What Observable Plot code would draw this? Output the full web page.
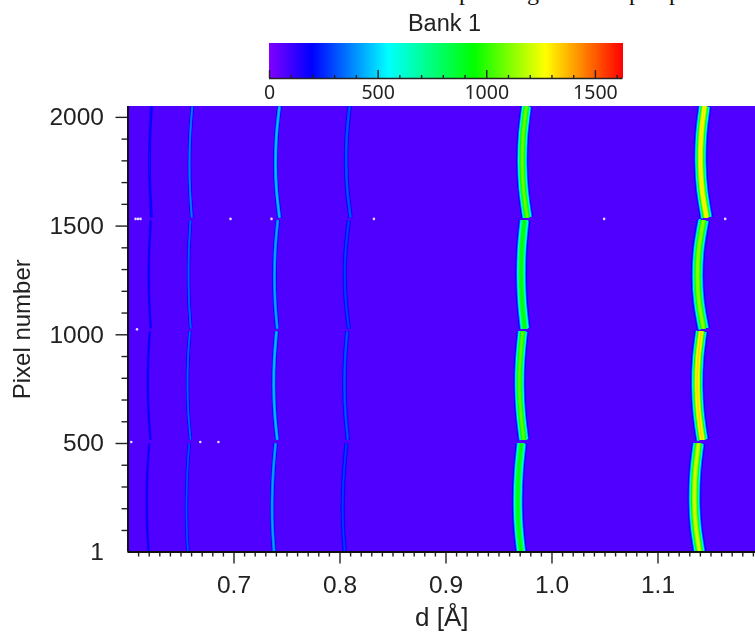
<!DOCTYPE html>
<html>
<head>
<meta charset="utf-8">
<script src="https://cdn.jsdelivr.net/npm/d3@7"></script>
<script src="https://cdn.jsdelivr.net/npm/@observablehq/plot@0.6"></script>
<style>
html,body{margin:0;padding:0;background:#fff;width:755px;height:632px;overflow:hidden}
#page{position:relative;width:755px;height:632px;overflow:hidden;font-family:"Liberation Sans",Arial,sans-serif}
#page svg{position:absolute;left:0;filter:blur(.6px);background:transparent;max-width:none}
#title{position:absolute;left:0;width:889px;top:9px;text-align:center;font-size:23.5px;color:#222;line-height:28px;filter:blur(.5px)}
.cut{position:absolute;top:-22px;font:24px/28px "Liberation Serif",serif;color:#111}
</style>
</head>
<body>
<div id="page"><div id="title">Bank 1</div></div>
<script>
// Colour map
const colorStops = [0, 196, 548, 940, 1270, 1627];
const colorHues = ["#8000ff", "#0000ff", "#00ffff", "#00ff00", "#ffff00", "#ff0000"];
const barMax = 1627;
const barMajor = [0, 500, 1000, 1500];
const barMinor = [100, 200, 300, 400, 600, 700, 800, 900, 1100, 1200, 1300, 1400, 1600];

// Axes
const xMajor = [0.7, 0.8, 0.9, 1.0, 1.1];
const xMinor = [0.61,0.62,0.63,0.64,0.65,0.66,0.67,0.68,0.69,0.71,0.72,0.73,0.74,0.75,0.76,0.77,0.78,0.79,
  0.81,0.82,0.83,0.84,0.85,0.86,0.87,0.88,0.89,0.91,0.92,0.93,0.94,0.95,0.96,0.97,0.98,0.99,
  1.01,1.02,1.03,1.04,1.05,1.06,1.07,1.08,1.09,1.11,1.12,1.13,1.14,1.15,1.16,1.17,1.18,1.19];
const yMajor = [500, 1000, 1500, 2000];
const yMinor = [100,200,300,400,600,700,800,900,1100,1200,1300,1400,1600,1700,1800,1900];

// Background count level of the detector image
const background = 75;

// Detector modules: pixel numbers sampled along each arc
const modulePixels = [
  [2050, 1920, 1788, 1665, 1540],
  [1526, 1400, 1273, 1150, 1029],
  [1015, 890, 767, 642, 518],
  [500, 368, 237, 118, 1]
];

// Peak centre d-spacing along every module
const peak1 = [[.6222,.6208,.6203,.6208,.6222],[.6215,.6201,.6196,.6201,.6215],[.6206,.6191,.6187,.6194,.6212],[.6200,.6183,.6177,.6181,.6195]];
const peak2 = [[.6606,.6587,.6580,.6585,.6602],[.6590,.6575,.6571,.6576,.6592],[.6583,.6566,.6561,.6569,.6590],[.6577,.6560,.6552,.6554,.6565]];
const peak3 = [[.7429,.7401,.7392,.7401,.7429],[.7413,.7390,.7382,.7388,.7408],[.7401,.7381,.7375,.7384,.7408],[.7392,.7370,.7360,.7363,.7378]];
const peak4 = [[.8090,.8065,.8058,.8069,.8099],[.8083,.8055,.8045,.8055,.8083],[.8068,.8048,.8042,.8051,.8074],[.8061,.8037,.8026,.8029,.8045]];
const peak5 = [[.9759,.9728,.9719,.9732,.9766],[.9740,.9716,.9709,.9718,.9743],[.9724,.9700,.9693,.9705,.9734],[.9712,.9686,.9677,.9685,.9709]];
const peak6 = [[1.1439,1.1408,1.1401,1.1417,1.1457],[1.1429,1.1387,1.1373,1.1387,1.1429],[1.1408,1.1378,1.1370,1.1383,1.1417],[1.1382,1.1352,1.1344,1.1357,1.1392]];
const peaks = [peak1, peak2, peak3, peak4, peak5, peak6];

// Peak height per module
const peakHeights = [
  [230, 210, 210, 200],
  [390, 350, 350, 330],
  [490, 450, 480, 440],
  [340, 300, 330, 290],
  [1100, 960, 1080, 960],
  [1320, 1150, 1350, 1230]
];
// Peak breadth (styling)
const peakBreadth = [1.3, 1.25, 1.5, 1.7, 3.25, 3.6];

// Isolated hot pixels [d, pixel]
const hotD = [.6071,.6094,.6118,.6967,.7354,.8320,1.0492,1.1634,.6085,.6031,.6682,.6853];
const hotPixel = [1533,1533,1533,1533,1533,1533,1533,1533,1025,507,507,507];

// Intensity levels used to shade each peak profile
const shadeLevels = d3.range(100, 1500, 30);

const hot = hotD.map((d, i) => ({d, pixel: hotPixel[i]}));

const rows = [];
peaks.forEach((peak, p) => peak.forEach((arc, m) => {
  const H = peakHeights[p][m], s = peakBreadth[p];
  for (const level of shadeLevels) {
    if (level >= H) break;
    const w = 2 * s * Math.pow(2 * Math.log(H / level), 0.42);
    arc.forEach((d, i) => rows.push({d, pixel: modulePixels[m][i], level, w, id: `${p}-${m}-${level}`}));
  }
}));
rows.sort((a, b) => a.level - b.level);

const colorScale = {type: "linear", domain: colorStops, range: colorHues, interpolate: "rgb", clamp: true};
const ink = "#222";
const page = document.getElementById("page");

// Clipped line of body text at the very top of the page
const cutText = [["p", 459], ["g", 527], ["p", 629], ["p", 669]];
for (const [t, x] of cutText) {
  const s = document.createElement("span");
  s.className = "cut"; s.textContent = t; s.style.left = x + "px";
  page.appendChild(s);
}

// Colour bar
const barSamples = d3.range(0, barMax, 3);
const bar = Plot.plot({
  width: 755, height: 105,
  marginTop: 43, marginBottom: 27, marginLeft: 269, marginRight: 132.5,
  x: {domain: [0, barMax], axis: null},
  y: {domain: [0, 35], axis: null},
  color: colorScale,
  marks: [
    Plot.rect(barSamples, {x1: d => d, x2: d => Math.min(d + 5, barMax), y1: 0, y2: 35, fill: d => d, shapeRendering: "crispEdges"}),
    Plot.ruleX(barMinor, {y1: 0, y2: 3, stroke: ink, strokeWidth: 1.4}),
    Plot.ruleX(barMajor, {y1: 0, y2: 8, stroke: ink, strokeWidth: 1.4}),
    Plot.ruleY([0], {stroke: ink, strokeWidth: 1.6}),
    Plot.axisX(barMajor, {anchor: "bottom", tickSize: 0, tickPadding: 7, fontSize: 19.5, color: ink, label: null, tickFormat: d => String(d)})
  ]
});
bar.style.top = "0px";
page.appendChild(bar);

// Main image
const chart = Plot.plot({
  width: 755, height: 532,
  marginTop: 6, marginBottom: 80.5, marginLeft: 127.5, marginRight: 0,
  x: {domain: [0.6, 1.192]},
  y: {domain: [1, 2050]},
  color: colorScale,
  style: {fontFamily: '"Liberation Sans",Arial,sans-serif', background: "transparent"},
  marks: [
    Plot.rect([background], {x1: 0.6, x2: 1.192, y1: 1, y2: 2050, fill: d => d}),
    Plot.line(rows, {x: "d", y: "pixel", z: "id", stroke: "level", strokeWidth: "w", curve: "natural", clip: true, strokeLinecap: "butt"}),
    Plot.dot(hot, {x: "d", y: "pixel", r: 1.3, fill: "#e4d8ff"}),
    Plot.axisX({ticks: xMinor, tickSize: 5, tickFormat: () => "", stroke: ink, strokeWidth: 1.4, label: null}),
    Plot.axisX({ticks: xMajor, tickSize: 12, tickPadding: 12, fontSize: 24.5, color: ink, stroke: ink, strokeWidth: 1.4,
      tickFormat: d3.format(".1f"), label: null}),
    Plot.axisY({ticks: yMinor, tickSize: 6, tickFormat: () => "", stroke: ink, strokeWidth: 1.4, label: null}),
    Plot.axisY({ticks: yMajor, tickSize: 12, tickPadding: 12, fontSize: 24.5, color: ink, stroke: ink, strokeWidth: 1.4,
      label: null, tickFormat: d => String(d)}),
    Plot.axisY({ticks: [1], tickSize: 0, tickPadding: 24, fontSize: 24.5, color: ink, label: null, tickFormat: d => String(d)}),
    Plot.axisY({ticks: [], tickSize: 0, fontSize: 24, color: ink, label: "Pixel number", labelAnchor: "center", labelArrow: "none", labelOffset: 115}),
    Plot.ruleX([0.6], {stroke: "#111", strokeWidth: 2}),
    Plot.ruleY([1], {stroke: "#111", strokeWidth: 2}),
    Plot.axisX({ticks: [], tickSize: 0, fontSize: 26, color: ink, label: "d [Å]", labelAnchor: "center", labelArrow: "none", labelOffset: 74})
  ]
});
chart.style.top = "100px";
page.appendChild(chart);
</script>
</body>
</html>
